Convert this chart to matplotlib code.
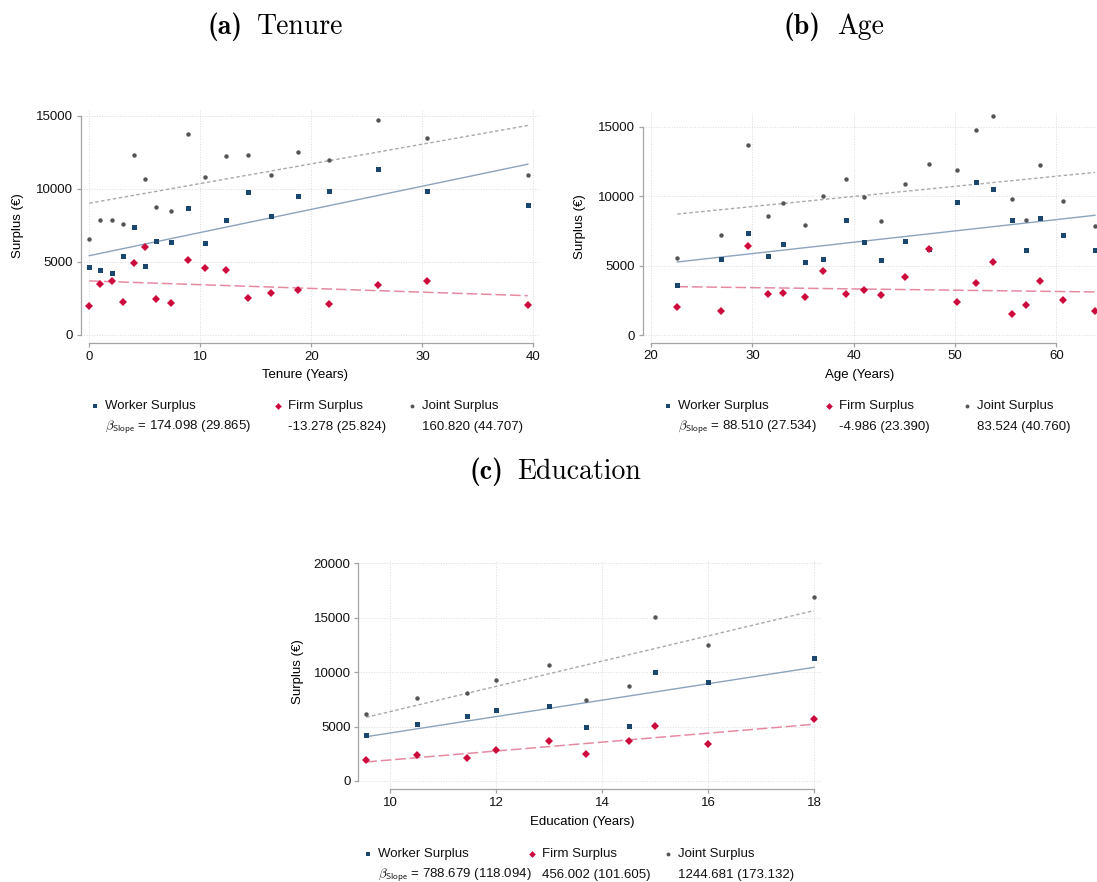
import matplotlib
matplotlib.use("Agg")
import matplotlib.pyplot as plt
from matplotlib.lines import Line2D

plt.rcParams['font.family'] = ['Liberation Sans', 'DejaVu Sans']
plt.rcParams['mathtext.fontset'] = 'cm'

W, H = 1097, 882

# ---- data ----
tenure_x = [0, 1, 2, 3, 4, 5, 6, 7.4, 8.9, 10.4, 12.3, 14.3, 16.4, 18.8, 21.6, 26, 30.4, 39.5]
tenure_worker = [4670, 4420, 4210, 5380, 7420, 4700, 6410, 6340, 8660, 6280, 7860, 9780, 8130, 9480,
                 9850, 11360, 9850, 8930]
tenure_firm = [1970, 3500, 3690, 2270, 4950, 6050, 2450, 2200, 5110, 4560, 4440, 2540, 2860, 3090,
               2150, 3390, 3710, 2040]
tenure_joint = [6600, 7860, 7860, 7630, 12320, 10690, 8790, 8500, 13740, 10810, 12250, 12320, 10950,
                12530, 11950, 14700, 13490, 10920]
tenure_fit = {'worker': [5430, 11690], 'firm': [3700, 2690], 'joint': [9020, 14340]}

age_x = [22.6, 26.9, 29.6, 31.5, 33.0, 35.2, 37.0, 39.2, 41.0, 42.7, 45.1, 47.4, 50.2, 52.1, 53.7,
         55.6, 57.0, 58.4, 60.6, 63.8]
age_worker = [3600, 5500, 7340, 5690, 6580, 5260, 5500, 8300, 6720, 5400, 6790, 6190, 9600, 11040,
              10540, 8300, 6140, 8400, 7220, 6140]
age_firm = [2020, 1750, 6380, 2930, 3000, 2740, 4580, 2950, 3220, 2880, 4150, 6190, 2350, 3770, 5280,
            1510, 2140, 3890, 2520, 1750]
age_joint = [5570, 7200, 13680, 8570, 9500, 7920, 10010, 11210, 9910, 8230, 10870, 12310, 11880, 14780,
             15770, 9790, 8260, 12240, 9670, 7850]
age_fit = {'worker': [5260, 8620], 'firm': [3480, 3100], 'joint': [8710, 11710]}

edu_x = [9.55, 10.5, 11.45, 12, 13, 13.7, 14.5, 15, 16, 18]
edu_worker = [4240, 5250, 5980, 6530, 6900, 4980, 5070, 9980, 9100, 11300]
edu_firm = [1920, 2410, 2110, 2810, 3690, 2470, 3690, 5070, 3420, 5650]
edu_joint = [6140, 7600, 8060, 9310, 10620, 7420, 8760, 15020, 12520, 16910]
edu_fit = {'worker': [4070, 10440], 'firm': [1750, 5210], 'joint': [5850, 15650]}

labels = ['Worker Surplus', 'Firm Surplus', 'Joint Surplus']
tenure_stats = ['174.098 (29.865)', '-13.278 (25.824)', '160.820 (44.707)']
age_stats = ['88.510 (27.534)', '-4.986 (23.390)', '83.524 (40.760)']
edu_stats = ['788.679 (118.094)', '456.002 (101.605)', '1244.681 (173.132)']

# ---- styles ----
c_worker, c_firm, c_joint = '#1a476f', '#cc0a3c', '#555555'
fit_style = {
    'worker': dict(color='#8ca3bc', ls='-', lw=1.0),
    'firm': dict(color='#e68aa2', ls=(0, (7, 2.5)), lw=1.1),
    'joint': dict(color='#a9a9a9', ls=(0, (2.5, 1.8)), lw=1.0),
}
axis_grey = '#a3a3a3'


def fx(px):
    return px / W


def fy(py):
    return 1 - py / H


def make_axes(fig, box, xlim, ylim, xticks, yticks):
    l, t, r, b = box
    ax = fig.add_axes([fx(l), fy(b), (r - l) / W, (b - t) / H])
    ax.set_xlim(xlim)
    ax.set_ylim(ylim)
    ax.set_xticks(xticks)
    ax.set_yticks(yticks)
    for s in ['top', 'right']:
        ax.spines[s].set_visible(False)
    for s in ['left', 'bottom']:
        ax.spines[s].set_color(axis_grey)
        ax.spines[s].set_linewidth(0.9)
    ax.spines['bottom'].set_bounds(xticks[0], xticks[-1])
    ax.spines['left'].set_bounds(yticks[0], yticks[-1])
    ax.tick_params(direction='out', length=3, width=0.9, color=axis_grey,
                   labelsize=9.5, labelcolor='#111111', pad=2.5)
    ax.grid(True, ls=':', color='#dcdcdc', lw=0.7)
    ax.set_axisbelow(True)
    ax.patch.set_alpha(0)
    return ax


def draw(ax, x, worker, firm, joint, fit):
    xs = [x[0], x[-1]]
    ax.plot(xs, fit['joint'], **fit_style['joint'])
    ax.plot(xs, fit['worker'], **fit_style['worker'])
    ax.plot(xs, fit['firm'], **fit_style['firm'])
    ax.plot(x, worker, 's', color=c_worker, ms=3.6, mew=0, clip_on=False)
    ax.plot(x, firm, 'D', color=c_firm, ms=4.0, mew=0, clip_on=False)
    ax.plot(x, joint, 'o', color=c_joint, ms=3.2, mew=0, clip_on=False)


def legend(fig, text_x, rows_y, stats):
    markers = [('s', c_worker, 3.2), ('D', c_firm, 3.4), ('o', c_joint, 2.8)]
    for i in range(3):
        m, c, ms = markers[i]
        fig.add_artist(Line2D([fx(text_x[i] - 10)], [fy(rows_y[0])], marker=m, color=c, ms=ms,
                              mew=0, ls='none', transform=fig.transFigure))
        fig.text(fx(text_x[i]), fy(rows_y[0]), labels[i], fontsize=9.5, va='center', color='#111111')
        s = stats[i]
        if i == 0:
            s = r'$\beta_{\mathsf{Slope}}$ = ' + s
        fig.text(fx(text_x[i]), fy(rows_y[1]), s, fontsize=9.5, va='center', color='#111111')


def title(fig, tag, name, x_tag_end, x_name, y):
    fig.text(fx(x_tag_end), fy(y), tag, family='cmb10', fontsize=20, ha='right', va='center')
    fig.text(fx(x_name), fy(y), name, family='cmr10', fontsize=20, ha='left', va='center')


fig = plt.figure(figsize=(W / 100, H / 100), dpi=100)

# (a) Tenure
ax_a = make_axes(fig, (81, 110, 540, 343), (-0.75, 40.6), (-548, 15400),
                 [0, 10, 20, 30, 40], [0, 5000, 10000, 15000])
draw(ax_a, tenure_x, tenure_worker, tenure_firm, tenure_joint, tenure_fit)
fig.text(fx(305), fy(375), 'Tenure (Years)', fontsize=9.5, ha='center', va='center')
fig.text(fx(18), fy(226), 'Surplus (€)', fontsize=9.5, ha='center', va='center', rotation=90)
title(fig, '(a)', 'Tenure', 242, 257, 27)
legend(fig, [105, 288, 422], [406, 427], tenure_stats)

# (b) Age
ax_b = make_axes(fig, (642.7, 112.8, 1097, 342.7), (19.18, 64.0), (-554, 16000),
                 [20, 30, 40, 50, 60], [0, 5000, 10000, 15000])
draw(ax_b, age_x, age_worker, age_firm, age_joint, age_fit)
fig.text(fx(860), fy(375), 'Age (Years)', fontsize=9.5, ha='center', va='center')
fig.text(fx(580), fy(227), 'Surplus (€)', fontsize=9.5, ha='center', va='center', rotation=90)
title(fig, '(b)', 'Age', 821, 837, 27)
legend(fig, [678, 839, 977], [406, 427], age_stats)

# (c) Education
ax_c = make_axes(fig, (358.3, 560, 821.7, 789), (9.40, 18.145), (-735, 20300),
                 [10, 12, 14, 16, 18], [0, 5000, 10000, 15000, 20000])
draw(ax_c, edu_x, edu_worker, edu_firm, edu_joint, edu_fit)
fig.text(fx(582), fy(822), 'Education (Years)', fontsize=9.5, ha='center', va='center')
fig.text(fx(298), fy(672), 'Surplus (€)', fontsize=9.5, ha='center', va='center', rotation=90)
title(fig, '(c)', 'Education', 503, 517, 472)
legend(fig, [378, 542, 678], [854, 875], edu_stats)

fig.savefig('out.png', dpi=100)
